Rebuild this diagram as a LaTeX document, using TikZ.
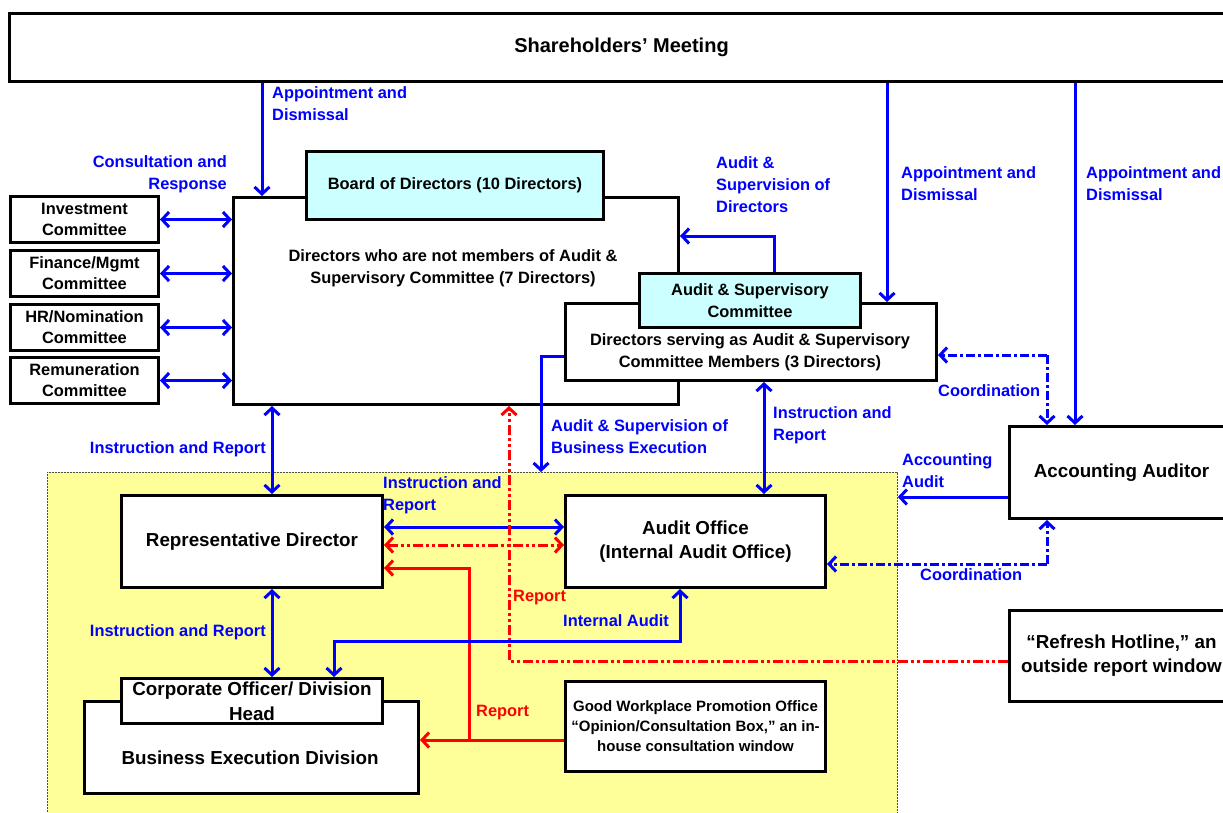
\documentclass[tikz,border=0pt]{standalone}
\usepackage{fontspec}
\setmainfont{Liberation Sans}
\usetikzlibrary{arrows.meta,calc}
\definecolor{cyanfill}{HTML}{CCFFFF}
\definecolor{yelfill}{HTML}{FFFF99}
\definecolor{myblue}{HTML}{0000FF}
\definecolor{myred}{HTML}{FF0000}
\newcommand{\fsA}{\bfseries\fontsize{20}{24}\selectfont}
\newcommand{\fsB}{\bfseries\fontsize{18.8}{24}\selectfont}
\newcommand{\fsC}{\bfseries\fontsize{16.4}{22}\selectfont}
\newcommand{\fsD}{\bfseries\fontsize{15}{20}\selectfont}
\begin{document}
\begin{tikzpicture}[x=1pt,y=-1pt,
  box/.style={draw=black,line width=3pt,fill=white,inner sep=0pt,anchor=north west,align=center},
  cbox/.style={box,fill=cyanfill},
  txt/.style={inner sep=0pt,align=center},
  lbl/.style={inner sep=0pt,text=myblue,font=\fsC},
  rlbl/.style={inner sep=0pt,text=myred,font=\fsC},
  bl/.style={draw=myblue,line width=3pt},
  rd/.style={draw=myred,line width=3pt},
  arr/.style={-{Straight Barb[length=7pt,width=15pt]}},
  darr/.style={{Straight Barb[length=7pt,width=15pt]}-{Straight Barb[length=7pt,width=15pt]}},
  bdd/.style={dash pattern=on 9pt off 3pt on 3pt off 3pt},
  rdd/.style={dash pattern=on 10pt off 3pt on 3pt off 3pt on 3pt off 3pt}]
\clip (0,0) rectangle (1223,812);
\fill[white] (0,0) rectangle (1223,812);
% column / row helper coordinates
\coordinate (x262) at (262,0);
\coordinate (x887) at (887,0);
\coordinate (x1075) at (1075,0);
\coordinate (k1) at (774,236);
\coordinate (x272) at (272,0);
\coordinate (y527) at (0,527);
\coordinate (y545) at (0,545);
\coordinate (r1) at (469,740);
\coordinate (r2) at (469,568);
\coordinate (d1) at (509,661);
\coordinate (i1) at (680,641);
\coordinate (i2) at (334,641);
\coordinate (e1) at (541,356);
\coordinate (x764) at (764,0);
\coordinate (c1) at (1047,355);
\coordinate (c2) at (1047,564);
\coordinate (y497) at (0,497);

% Shareholders
\node[box,minimum width=1224pt,minimum height=68pt,font=\fsA] (sh) at (8,12) {Shareholders’ Meeting};

% Yellow region
\node[draw=black!70,fill=yelfill,line width=0.8pt,dash pattern=on 2pt off 1pt,inner sep=0pt,anchor=north west,minimum width=850pt,minimum height=350pt] (yel) at (47,472) {};

% Big board box
\node[box,minimum width=445pt,minimum height=207pt] (big) at (232,196) {};
\node[cbox,minimum width=297pt,minimum height=68pt,font=\fsC] (board) at (305,150) {Board of Directors (10 Directors)};
\node[txt,font=\fsC] (bigtxt) at (453,268) {Directors who are not members of Audit \&\\Supervisory Committee (7 Directors)};
\node[box,minimum width=371pt,minimum height=77pt] (dsv) at (564,302) {};
\node[txt,font=\fsC] (dsvtxt) at (750,352) {Directors serving as Audit \& Supervisory\\Committee Members (3 Directors)};
\node[cbox,minimum width=221pt,minimum height=54pt,font=\fsC] (asc) at (638,272) {Audit \& Supervisory\\Committee};

% Committees
\node[box,minimum width=148pt,minimum height=46pt,font=\fsC,align=center] (inv) at (9,195) {Investment\\[-1pt]Committee};
\node[box,minimum width=148pt,minimum height=46pt,font=\fsC] (fin) at (9,249) {Finance/Mgmt\\[-1pt]Committee};
\node[box,minimum width=148pt,minimum height=46pt,font=\fsC] (hr) at (9,303) {HR/Nomination\\[-1pt]Committee};
\node[box,minimum width=148pt,minimum height=46pt,font=\fsC] (rem) at (9,356) {Remuneration\\[-1pt]Committee};

% Lower boxes
\node[box,minimum width=261pt,minimum height=92pt,font=\fsB] (rep) at (120,494) {Representative Director};
\node[box,minimum width=260pt,minimum height=92pt,font=\fsB] (ao) at (564,494) {Audit Office\\(Internal Audit Office)};
\node[box,minimum width=224pt,minimum height=92pt,font=\fsB] (aa) at (1008,425) {Accounting Auditor};
\node[box,minimum width=224pt,minimum height=91pt,font=\fsB] (rh) at (1008,609) {“Refresh Hotline,” an\\outside report window};
\node[box,minimum width=334pt,minimum height=92pt] (bed) at (83,700) {};
\node[txt,font=\fsB] (bedtxt) at (250,758) {Business Execution Division};
\node[box,minimum width=261pt,minimum height=45pt,font=\bfseries\fontsize{18.8}{25}\selectfont] (corp) at (120,677) {Corporate Officer/ Division\\Head};
\node[box,minimum width=260pt,minimum height=90pt,font=\fsD] (gw) at (564,680) {Good Workplace Promotion Office\\“Opinion/Consultation Box,” an in-\\house consultation window};

% Connectors
\draw[bl,arr] (sh.south -| x262) -- (big.north -| x262);
\draw[bl,arr] (sh.south -| x887) -- (dsv.north -| x887);
\draw[bl,arr] (sh.south -| x1075) -- (aa.north -| x1075);
\draw[bl,arr] (asc.north -| k1) -- (k1) -- (big.east |- k1);
\foreach \c in {inv,fin,hr,rem}{\draw[bl,darr] (\c.east) -- (\c.east -| big.west);}
\draw[bl,darr] (big.south -| x272) -- (rep.north -| x272);
\draw[bl,darr] (rep.south -| x272) -- (corp.north -| x272);
\draw[bl,darr] (rep.east |- y527) -- (ao.west |- y527);
\draw[rd,darr,rdd] (rep.east |- y545) -- (ao.west |- y545);
\draw[rd,arr] (gw.west |- r1) -- (bed.east |- r1);
\draw[rd,arr] (r1) -- (r2) -- (rep.east |- r2);
\draw[rd,arr,rdd] (rh.west |- d1) -- (d1) -- (big.south -| d1);
\draw[bl,darr] (ao.south -| i1) -- (i1) -- (i2) -- (corp.north -| i2);
\draw[bl,arr] (dsv.west |- e1) -- (e1) -- (yel.north -| e1);
\draw[bl,darr] (dsv.south -| x764) -- (ao.north -| x764);
\draw[bl,arr,bdd] (c1) -- (dsv.east |- c1);
\draw[bl,arr,bdd] (c1) -- (aa.north -| c1);
\draw[bl,arr,bdd] (c2) -- (aa.south -| c2);
\draw[bl,arr,bdd] (c2) -- (ao.east |- c2);
\draw[bl,arr] (aa.west |- y497) -- (yel.east |- y497);

% Labels
\node[lbl,anchor=west,align=left] (l1) at (272,104) {Appointment and\\Dismissal};
\node[lbl,anchor=east,align=right] (l2) at (227,174) {Consultation and\\Response};
\node[lbl,anchor=west,align=left] (l3) at (716,185) {Audit \&\\Supervision of\\Directors};
\node[lbl,anchor=west,align=left] (l4) at (901,184) {Appointment and\\Dismissal};
\node[lbl,anchor=west,align=left] (l5) at (1086,184) {Appointment and\\Dismissal};
\node[lbl,anchor=east] (l6) at (266,449) {Instruction and Report};
\node[lbl,anchor=east] (l7) at (266,632) {Instruction and Report};
\node[lbl,anchor=west,align=left] (l8) at (383,495) {Instruction and\\Report};
\node[lbl,anchor=west,align=left] (l9) at (551,437) {Audit \& Supervision of\\Business Execution};
\node[lbl,anchor=west,align=left] (l10) at (773,425) {Instruction and\\Report};
\node[lbl,anchor=west] (l11) at (938,391) {Coordination};
\node[lbl,anchor=west] (l12) at (920,575) {Coordination};
\node[lbl,anchor=west,align=left] (l13) at (902,471) {Accounting\\Audit};
\node[lbl,anchor=west] (l14) at (563,621) {Internal Audit};
\node[rlbl,anchor=west] (l15) at (513,598) {Report};
\node[rlbl,anchor=west] (l16) at (476,713) {Report};
\end{tikzpicture}
\end{document}
